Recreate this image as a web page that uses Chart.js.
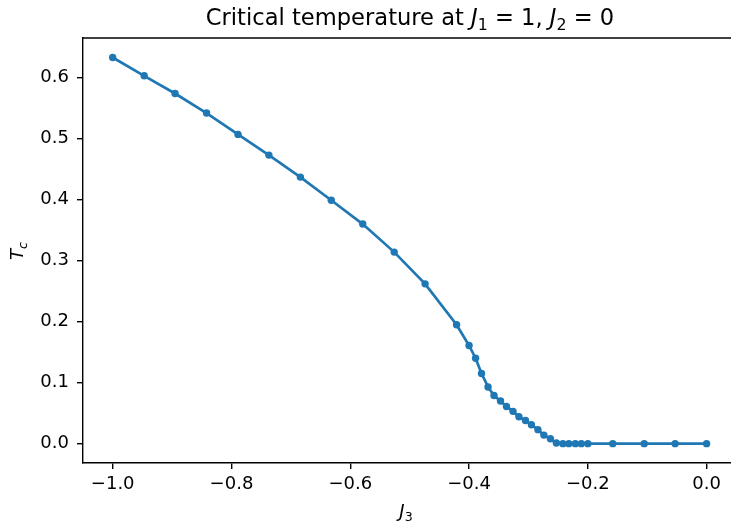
<!DOCTYPE html>
<html>
<head>
<meta charset="utf-8">
<script src="https://cdn.jsdelivr.net/npm/chart.js@4.4.1/dist/chart.umd.min.js"></script>
<style>
    html, body { margin: 0; padding: 0; background: #fff; overflow: hidden; }
    #wrap { width: 731px; height: 522px; overflow: hidden; }
</style>
</head>
<body>
<div id="wrap"><canvas id="chart" width="740" height="522"></canvas></div>
<script>
// J3 values (coarse grid, then the refined part near the drop)
const j3 = [
    -1.0, -0.947, -0.895, -0.842, -0.789, -0.737, -0.684, -0.632, -0.579, -0.526, -0.474, -0.421,
    -0.400, -0.389, -0.379, -0.368, -0.358, -0.347, -0.337, -0.326, -0.316, -0.305,
    -0.295, -0.284, -0.274, -0.263, -0.253, -0.242, -0.232, -0.221, -0.211, -0.200,
    -0.158, -0.105, -0.053, 0.0
]

// critical temperature Tc
const tc = [
    0.633, 0.603, 0.574, 0.542, 0.507, 0.473, 0.437, 0.399, 0.360, 0.314, 0.262, 0.195,
    0.161, 0.140, 0.115, 0.093, 0.079, 0.070, 0.061, 0.053, 0.044, 0.038,
    0.031, 0.023, 0.014, 0.008, 0.001, 0.0, 0.0, 0.0, 0.0, 0.0,
    0.0, 0.0, 0.0, 0.0
]

const xTicks = [-1.0, -0.8, -0.6, -0.4, -0.2, 0.0]
const yTicks = [0.0, 0.1, 0.2, 0.3, 0.4, 0.5, 0.6]

const FONT = "'DejaVu Sans', sans-serif"
const BLUE = "#1f77b4"

function fmt(v) {
    return v.toFixed(1).replace("-", "\u2212")
}

// draw text with italic / subscript parts, centred on cx
function drawRich(ctx, parts, cx, y, size) {
    const fontOf = p => (p.italic ? "italic " : "") + (p.sub ? size * 0.7 : size) + "px " + FONT
    let total = 0
    parts.forEach(p => {
        ctx.font = fontOf(p)
        p.w = ctx.measureText(p.t).width
        total += p.w
    })
    let x = cx - total / 2
    ctx.textAlign = "left"
    ctx.textBaseline = "alphabetic"
    parts.forEach(p => {
        ctx.font = fontOf(p)
        ctx.fillText(p.t, x, p.sub ? y + size * 0.22 : y)
        x += p.w
    })
}

const textPlugin = {
    id: "texts",
    afterDraw(chart) {
        const ctx = chart.ctx
        const area = chart.chartArea
        ctx.save()

        // top spine
        ctx.strokeStyle = "#000"
        ctx.lineWidth = 1.4
        ctx.beginPath()
        ctx.moveTo(area.left - 0.7, area.top)
        ctx.lineTo(area.right, area.top)
        ctx.stroke()

        ctx.fillStyle = "#000"
        const mid = 410

        // title
        drawRich(ctx, [
            { t: "Critical temperature at " },
            { t: "J", italic: true },
            { t: "1", sub: true },
            { t: " = 1, " },
            { t: "J", italic: true },
            { t: "2", sub: true },
            { t: " = 0" }
        ], mid, 25, 22.6)

        // x label
        drawRich(ctx, [
            { t: "J", italic: true },
            { t: "3", sub: true }
        ], 406, 517, 18)

        // y label
        ctx.translate(23, 251)
        ctx.rotate(-Math.PI / 2)
        drawRich(ctx, [
            { t: "T", italic: true },
            { t: "c", italic: true, sub: true }
        ], 0, 0, 18)

        ctx.restore()
    }
}

new Chart(document.getElementById("chart"), {
    type: "line",
    data: {
        datasets: [{
            data: j3.map((x, i) => ({ x: x, y: tc[i] })),
            borderColor: BLUE,
            backgroundColor: BLUE,
            borderWidth: 2.7,
            pointRadius: 3.7,
            pointHoverRadius: 3.7,
            pointBorderWidth: 0,
            tension: 0,
            fill: false
        }]
    },
    options: {
        responsive: false,
        animation: false,
        events: [],
        layout: {
            padding: { top: 38, right: 0, left: 0, bottom: 0 }
        },
        plugins: {
            legend: { display: false },
            tooltip: { enabled: false },
            title: { display: false }
        },
        scales: {
            x: {
                type: "linear",
                min: -1.05,
                max: 0.05,
                afterFit(scale) { scale.height = 59 },
                afterBuildTicks(scale) { scale.ticks = xTicks.map(v => ({ value: v })) },
                ticks: {
                    color: "#000",
                    font: { family: FONT, size: 18 },
                    padding: 5,
                    maxRotation: 0,
                    callback: v => fmt(v)
                },
                grid: {
                    display: true,
                    drawOnChartArea: false,
                    drawTicks: true,
                    tickLength: 6,
                    color: "#000",
                    lineWidth: 1.4
                },
                border: { display: true, color: "#000", width: 1.4 }
            },
            y: {
                min: -0.0317,
                max: 0.665,
                afterFit(scale) { scale.width = 83 },
                afterBuildTicks(scale) { scale.ticks = yTicks.map(v => ({ value: v })) },
                ticks: {
                    color: "#000",
                    font: { family: FONT, size: 18 },
                    padding: 8,
                    callback: v => fmt(v)
                },
                grid: {
                    display: true,
                    drawOnChartArea: false,
                    drawTicks: true,
                    tickLength: 6,
                    color: "#000",
                    lineWidth: 1.4
                },
                border: { display: true, color: "#000", width: 1.4 }
            }
        }
    },
    plugins: [textPlugin]
})
</script>
</body>
</html>
